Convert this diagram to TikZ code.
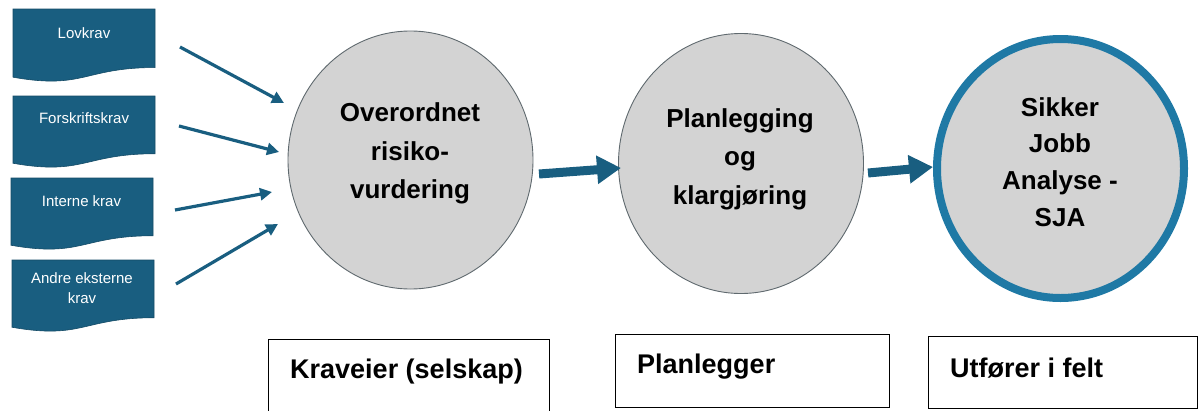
\documentclass[tikz,border=0pt]{standalone}
\usepackage{fontspec}
\setmainfont{Liberation Sans}
\usetikzlibrary{arrows.meta,shapes.geometric}
\definecolor{docblue}{RGB}{25,94,128}
\definecolor{ringblue}{RGB}{31,121,165}
\definecolor{discgray}{RGB}{211,211,211}
\definecolor{rimgray}{RGB}{95,105,110}

% flowchart "document" outline: left x, top y, width, height
\newcommand\reqdoc[4]{%
  \path[docshape] (#1,#2) -- (#1+#3,#2) -- (#1+#3,#2+0.802*#4)
    .. controls (#1+0.5*#3,#2+0.802*#4) and (#1+0.5*#3,#2+1.1075*#4) .. (#1,#2+0.934*#4) -- cycle;}

\begin{document}
\begin{tikzpicture}[x=1pt,y=-1pt,
  docshape/.style={fill=docblue,draw=docblue!80!black,line width=0.6pt},
  doctext/.style={text=white,font=\fontsize{15}{20}\selectfont,inner sep=0pt,align=center},
  feed/.style={draw=docblue,line width=3.2pt,-{Triangle[length=12pt,width=12pt]}},
  flow/.style={draw=docblue,line width=9pt,-{Triangle[length=24pt,width=27pt]}},
  stage/.style={ellipse,fill=discgray,draw=rimgray,line width=0.9pt,inner sep=0pt},
  stagetext/.style={font=\bfseries\fontsize{26}{38.5}\selectfont,align=center,inner sep=0pt},
  rolebox/.style={draw=black,line width=1.4pt,fill=white,inner sep=0pt,anchor=north west},
  roletext/.style={font=\bfseries\fontsize{27}{32}\selectfont,inner sep=0pt,anchor=base west}
]
\useasboundingbox (0,0) rectangle (1200,410);

% requirement sources
\reqdoc{13}{9}{142}{73}
\reqdoc{13}{96}{142}{72}
\reqdoc{11}{178}{142}{72}
\reqdoc{12}{260}{142}{72}
\node[doctext] (lov) at (84,33) {Lovkrav};
\node[doctext] (forskrift) at (84,118) {Forskriftskrav};
\node[doctext] (intern) at (81.5,201) {Interne krav};
\node[doctext] (ekstern) at (82,288) {Andre eksterne\\krav};

% process stages
\node[stage,minimum width=245pt,minimum height=258pt] (risk) at (410.5,160) {};
\node[stage,minimum width=245pt,minimum height=260pt] (plan) at (741,163.5) {};
\node[stage,draw=ringblue,line width=8pt,minimum width=247pt,minimum height=259pt] (sja) at (1060.5,168.5) {};
\node[stagetext] (risktxt) at (410,153.7) {Overordnet\\risiko-\\vurdering};
\node[stagetext] (plantxt) at (740,159) {Planlegging\\og\\klargjøring};
\node[stagetext,font=\bfseries\fontsize{26}{36.7}\selectfont] (sjatxt) at (1060,162) {Sikker\\Jobb\\Analyse -\\SJA};

% inputs into the overall risk assessment
\coordinate (a1s) at (180,47);  \coordinate (a1e) at (284,103);
\coordinate (a2s) at (179,126); \coordinate (a2e) at (279,152);
\coordinate (a3s) at (175,210); \coordinate (a3e) at (272,192);
\coordinate (a4s) at (176,284); \coordinate (a4e) at (278,224);
\draw[feed] (a1s) -- (a1e);
\draw[feed] (a2s) -- (a2e);
\draw[feed] (a3s) -- (a3e);
\draw[feed] (a4s) -- (a4e);

% flow between stages
\coordinate (f1s) at (539,174); \coordinate (f1e) at (621,168);
\coordinate (f2s) at (868,173); \coordinate (f2e) at (933,167);
\draw[flow] (f1s) -- (f1e);
\draw[flow] (f2s) -- (f2e);

% responsible roles
\node[rolebox,minimum width=281pt,minimum height=75pt] (owner) at (268,339) {};
\node[rolebox,minimum width=274pt,minimum height=73pt] (planner) at (615,334) {};
\node[rolebox,minimum width=269pt,minimum height=72pt] (field) at (928,336) {};
\node[roletext] (ownertxt) at (290,378) {Kraveier (selskap)};
\node[roletext] (plannertxt) at (637,373) {Planlegger};
\node[roletext] (fieldtxt) at (950,377) {Utfører i felt};
\end{tikzpicture}
\end{document}
